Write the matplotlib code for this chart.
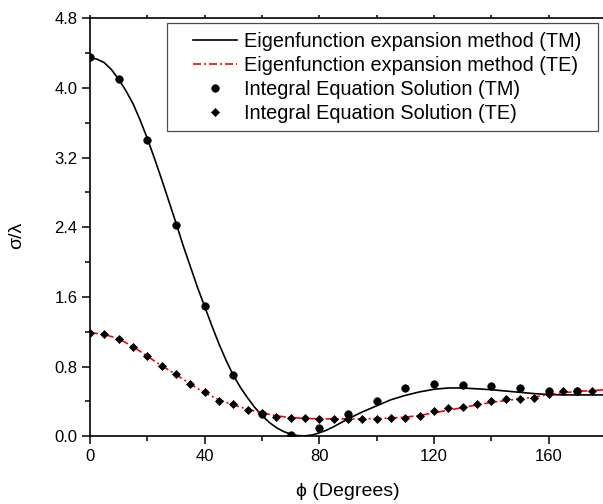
import matplotlib
matplotlib.use("Agg")
from matplotlib import pyplot as plt
from matplotlib.patches import Rectangle
from matplotlib.ticker import MultipleLocator

plt.rcParams['font.family'] = ['Liberation Sans', 'DejaVu Sans']

# eigenfunction expansion curves
phi_tm_curve = [0, 2.5, 5, 7.5, 10, 12.5, 15, 17.5, 20, 22.5, 25, 27.5, 30, 32.5, 35, 37.5,
                40, 42.5, 45, 47.5, 50, 52.5, 55, 57.5, 60, 62.5, 65, 67.5, 70, 72.5, 75,
                77.5, 80, 82.5, 85, 87.5, 90, 95, 100, 105, 110, 115, 120, 125, 130, 135,
                140, 145, 150, 155, 160, 165, 170, 175, 180]
tm_curve = [4.35, 4.33, 4.29, 4.21, 4.10, 3.97, 3.82, 3.63, 3.42, 3.19, 2.95, 2.70, 2.45,
            2.19, 1.95, 1.71, 1.49, 1.27, 1.06, 0.87, 0.70, 0.56, 0.44, 0.33, 0.24, 0.16,
            0.10, 0.055, 0.025, 0.008, 0.005, 0.015, 0.04, 0.07, 0.11, 0.155, 0.20, 0.28,
            0.35, 0.42, 0.47, 0.51, 0.54, 0.555, 0.555, 0.545, 0.535, 0.52, 0.505, 0.49,
            0.48, 0.475, 0.475, 0.475, 0.475]
phi_te_curve = [0, 5, 10, 15, 20, 25, 30, 35, 40, 45, 50, 55, 60, 65, 70, 75, 80, 85, 90,
                95, 100, 105, 110, 115, 120, 125, 130, 135, 140, 145, 150, 155, 160, 165,
                170, 175, 180]
te_curve = [1.19, 1.17, 1.12, 1.03, 0.92, 0.81, 0.71, 0.60, 0.50, 0.42, 0.36, 0.31, 0.27,
            0.235, 0.215, 0.205, 0.20, 0.20, 0.20, 0.20, 0.205, 0.21, 0.22, 0.24, 0.27,
            0.30, 0.33, 0.36, 0.39, 0.41, 0.43, 0.45, 0.48, 0.50, 0.515, 0.525, 0.535]

# integral equation solution points
phi_tm = [0, 10, 20, 30, 40, 50, 60, 70, 80, 90, 100, 110, 120, 130, 140, 150, 160, 170]
tm_pts = [4.35, 4.10, 3.40, 2.43, 1.50, 0.70, 0.26, 0.02, 0.09, 0.26, 0.40, 0.55, 0.60,
          0.585, 0.58, 0.555, 0.525, 0.525]
phi_te = [0, 5, 10, 15, 20, 25, 30, 35, 40, 45, 50, 55, 60, 65, 70, 75, 80, 85, 90, 95,
          100, 105, 110, 115, 120, 125, 130, 135, 140, 145, 150, 155, 160, 165, 170, 175]
te_pts = [1.19, 1.17, 1.12, 1.025, 0.92, 0.81, 0.71, 0.60, 0.51, 0.41, 0.37, 0.30, 0.265,
          0.22, 0.21, 0.21, 0.20, 0.20, 0.20, 0.20, 0.20, 0.21, 0.215, 0.235, 0.29, 0.32,
          0.34, 0.375, 0.40, 0.425, 0.425, 0.44, 0.485, 0.525, 0.525, 0.525]

fig = plt.figure(figsize=(6.03, 5.04), dpi=100)
ax = fig.add_axes([90 / 603, 67.7 / 504, 516 / 603, 418 / 504])

l1, = ax.plot(phi_tm_curve, tm_curve, color='black', lw=1.2,
              label="Eigenfunction expansion method (TM)")
l2, = ax.plot(phi_te_curve, te_curve, color='red', lw=1.2, linestyle=(0, (4.8, 1.8, 1.2, 1.8)),
              label="Eigenfunction expansion method (TE)")
p1, = ax.plot(phi_tm, tm_pts, 'o', color='black', ms=5.4, mew=0.5,
              label="Integral Equation Solution (TM)")
p2, = ax.plot(phi_te, te_pts, 'D', color='black', ms=3.9, mew=0.5,
              label="Integral Equation Solution (TE)")

ax.set_xlim(0, 180)
ax.set_ylim(0, 4.8)
ax.xaxis.set_major_locator(MultipleLocator(40))
ax.xaxis.set_minor_locator(MultipleLocator(20))
ax.yaxis.set_major_locator(MultipleLocator(0.8))
ax.yaxis.set_minor_locator(MultipleLocator(0.4))
ax.yaxis.set_major_formatter(plt.FormatStrFormatter('%.1f'))

for s in ax.spines.values():
    s.set_linewidth(1.2)
ax.tick_params(which='major', direction='out', length=6, width=1.1, labelsize=12, pad=3)
ax.tick_params(which='minor', direction='out', length=3.5, width=1.1)
ax.tick_params(which='both', top=True, right=False)
for t in ax.xaxis.get_major_ticks() + ax.xaxis.get_minor_ticks():
    t.tick2line.set_markersize(2.5)

ax.set_xlabel("ϕ (Degrees)", fontsize=14)
ax.set_ylabel("σ/λ", fontsize=14)
ax.xaxis.set_label_coords(0.5, -0.112)
ax.yaxis.set_label_coords(-0.126, 0.48)

# legend box drawn as in the original (wider left margin)
fig.patches.append(Rectangle((167 / 603, (504 - 131) / 504), 431 / 603, 108 / 504,
                             transform=fig.transFigure, fill=False,
                             edgecolor='0.3', lw=0.9, zorder=5))
fig.legend(handles=[l1, l2, p1, p2], loc='upper left', bbox_to_anchor=(193 / 603, (504 - 32) / 504),
           bbox_transform=fig.transFigure, frameon=False, fontsize=14.3, borderpad=0,
           borderaxespad=0, handlelength=2.2, handletextpad=0.35, labelspacing=0.25)

fig.savefig("out.png", dpi=100)
